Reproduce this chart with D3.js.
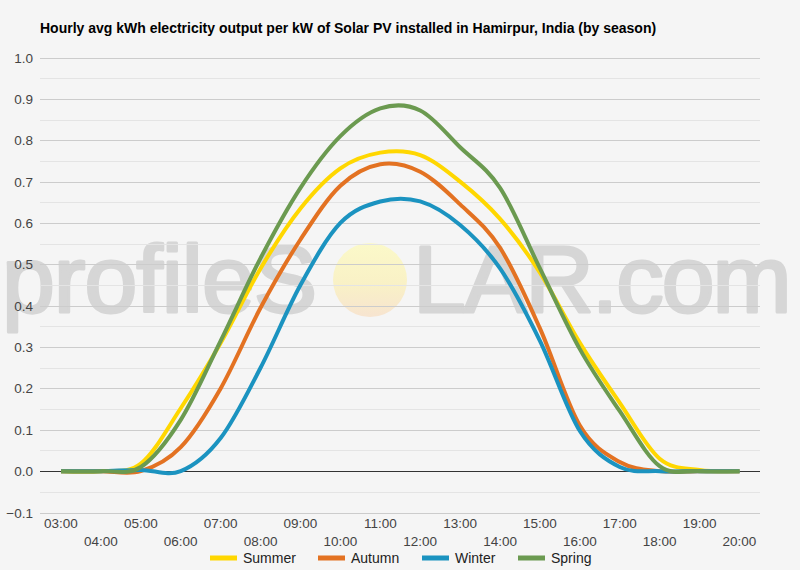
<!DOCTYPE html>
<html>
<head>
<meta charset="utf-8">
<script src="https://cdn.jsdelivr.net/npm/d3@7"></script>
<style>
  html, body { margin: 0; padding: 0; background: #f5f5f5; }
  svg { display: block; font-family: "Liberation Sans", Arial, sans-serif; }
</style>
</head>
<body>
<svg id="chart" width="800" height="570"></svg>
<script>
const title = "Hourly avg kWh electricity output per kW of Solar PV installed in Hamirpur, India (by season)";
const hours = ["03:00","04:00","05:00","06:00","07:00","08:00","09:00","10:00","11:00","12:00","13:00","14:00","15:00","16:00","17:00","18:00","19:00","20:00"];
const summer = [0, 0, 0.018, 0.152, 0.31, 0.49, 0.635, 0.732, 0.77, 0.764, 0.70, 0.61, 0.48, 0.31, 0.165, 0.03, 0.003, 0];
const autumn = [0, 0, 0.0, 0.058, 0.20, 0.395, 0.56, 0.69, 0.742, 0.724, 0.645, 0.54, 0.345, 0.11, 0.022, 0, 0, 0];
const winter = [0, 0, 0.003, 0.0, 0.08, 0.25, 0.45, 0.60, 0.652, 0.652, 0.595, 0.49, 0.315, 0.097, 0.01, 0, 0, 0];
const spring = [0, 0, 0.01, 0.124, 0.315, 0.515, 0.685, 0.81, 0.877, 0.872, 0.783, 0.685, 0.49, 0.295, 0.145, 0.012, 0, 0];
const seriesNames = ["Summer", "Autumn", "Winter", "Spring"];
const seriesColors = ["#FFD700", "#E37222", "#1B93C0", "#6B9A50"];
const yTicks = [-0.1, 0, 0.1, 0.2, 0.3, 0.4, 0.5, 0.6, 0.7, 0.8, 0.9, 1.0];

const series = [summer, autumn, winter, spring];
const svg = d3.select("#chart");
const left = 40, right = 760;

const x = d3.scalePoint().domain(hours).range([61, 739.5]);
const y = d3.scaleLinear().domain([-0.1, 1.0]).range([512.5, 57.5]);

svg.append("rect").attr("width", 800).attr("height", 570).attr("fill", "#f5f5f5");

// watermark
const defs = svg.append("defs");
const grad = defs.append("linearGradient").attr("id", "sun").attr("x1", 0).attr("y1", 0).attr("x2", 0).attr("y2", 1);
grad.append("stop").attr("offset", "0%").attr("stop-color", "#fbf9c9");
grad.append("stop").attr("offset", "55%").attr("stop-color", "#f9f1c6");
grad.append("stop").attr("offset", "100%").attr("stop-color", "#f7e4d0");
const wm = svg.append("g");
wm.append("text").attr("x", 2).attr("y", 312).attr("font-size", 95).attr("fill", "#d6d6d6")
  .attr("stroke", "#d6d6d6").attr("stroke-width", 3).attr("stroke-linejoin", "round")
  .attr("letter-spacing", -1).text("profileS");
wm.append("circle").attr("cx", 370).attr("cy", 280).attr("r", 37).attr("fill", "url(#sun)");
wm.append("text").attr("x", 413).attr("y", 312).attr("font-size", 95).attr("fill", "#d6d6d6")
  .attr("stroke", "#d6d6d6").attr("stroke-width", 3).attr("stroke-linejoin", "round")
  .attr("letter-spacing", -2).text("LAR.com");

// gridlines (major + minor)
const minor = d3.range(-0.05, 1.0, 0.1);
svg.append("g").selectAll("line").data(minor).join("line")
  .attr("x1", left).attr("x2", right)
  .attr("y1", d => Math.round(y(d)) + 0.5).attr("y2", d => Math.round(y(d)) + 0.5)
  .attr("stroke", "#e4e4e4").attr("stroke-width", 1);
svg.append("g").selectAll("line").data(yTicks).join("line")
  .attr("x1", left).attr("x2", right)
  .attr("y1", d => Math.round(y(d)) + 0.5).attr("y2", d => Math.round(y(d)) + 0.5)
  .attr("stroke", d => d === 0 ? "#333" : "#cccccc").attr("stroke-width", 1);

// y labels
svg.append("g").selectAll("text").data(yTicks).join("text")
  .attr("x", 33).attr("y", d => y(d) + 5)
  .attr("text-anchor", "end").attr("font-size", 13.5).attr("fill", "#444")
  .text(d => d3.format(".1f")(d));

// x labels (two staggered rows)
svg.append("g").selectAll("text").data(hours).join("text")
  .attr("x", d => x(d)).attr("y", (d, i) => i % 2 === 0 ? 528 : 546)
  .attr("text-anchor", "middle").attr("font-size", 13.5).attr("fill", "#444")
  .text(d => d);

// lines
const line = d3.line().x((d, i) => x(hours[i])).y(d => y(d)).curve(d3.curveCardinal.tension(0));
svg.append("g").selectAll("path").data(series).join("path")
  .attr("d", d => line(d)).attr("fill", "none")
  .attr("stroke", (d, i) => seriesColors[i]).attr("stroke-width", 4)
  .attr("stroke-linejoin", "round").attr("stroke-linecap", "butt");

// title
svg.append("text").attr("x", 40).attr("y", 33).attr("font-size", 14).attr("font-weight", "bold")
  .attr("fill", "#000").text(title);

// legend
const legendX = [210, 318, 422, 518];
const lg = svg.append("g").selectAll("g").data(seriesNames).join("g")
  .attr("transform", (d, i) => `translate(${legendX[i]},558)`);
lg.append("rect").attr("x", 0).attr("y", -2.5).attr("width", 27).attr("height", 5)
  .attr("fill", (d, i) => seriesColors[i]);
lg.append("text").attr("x", 33).attr("y", 5).attr("font-size", 14).attr("fill", "#222").text(d => d);
</script>
</body>
</html>
